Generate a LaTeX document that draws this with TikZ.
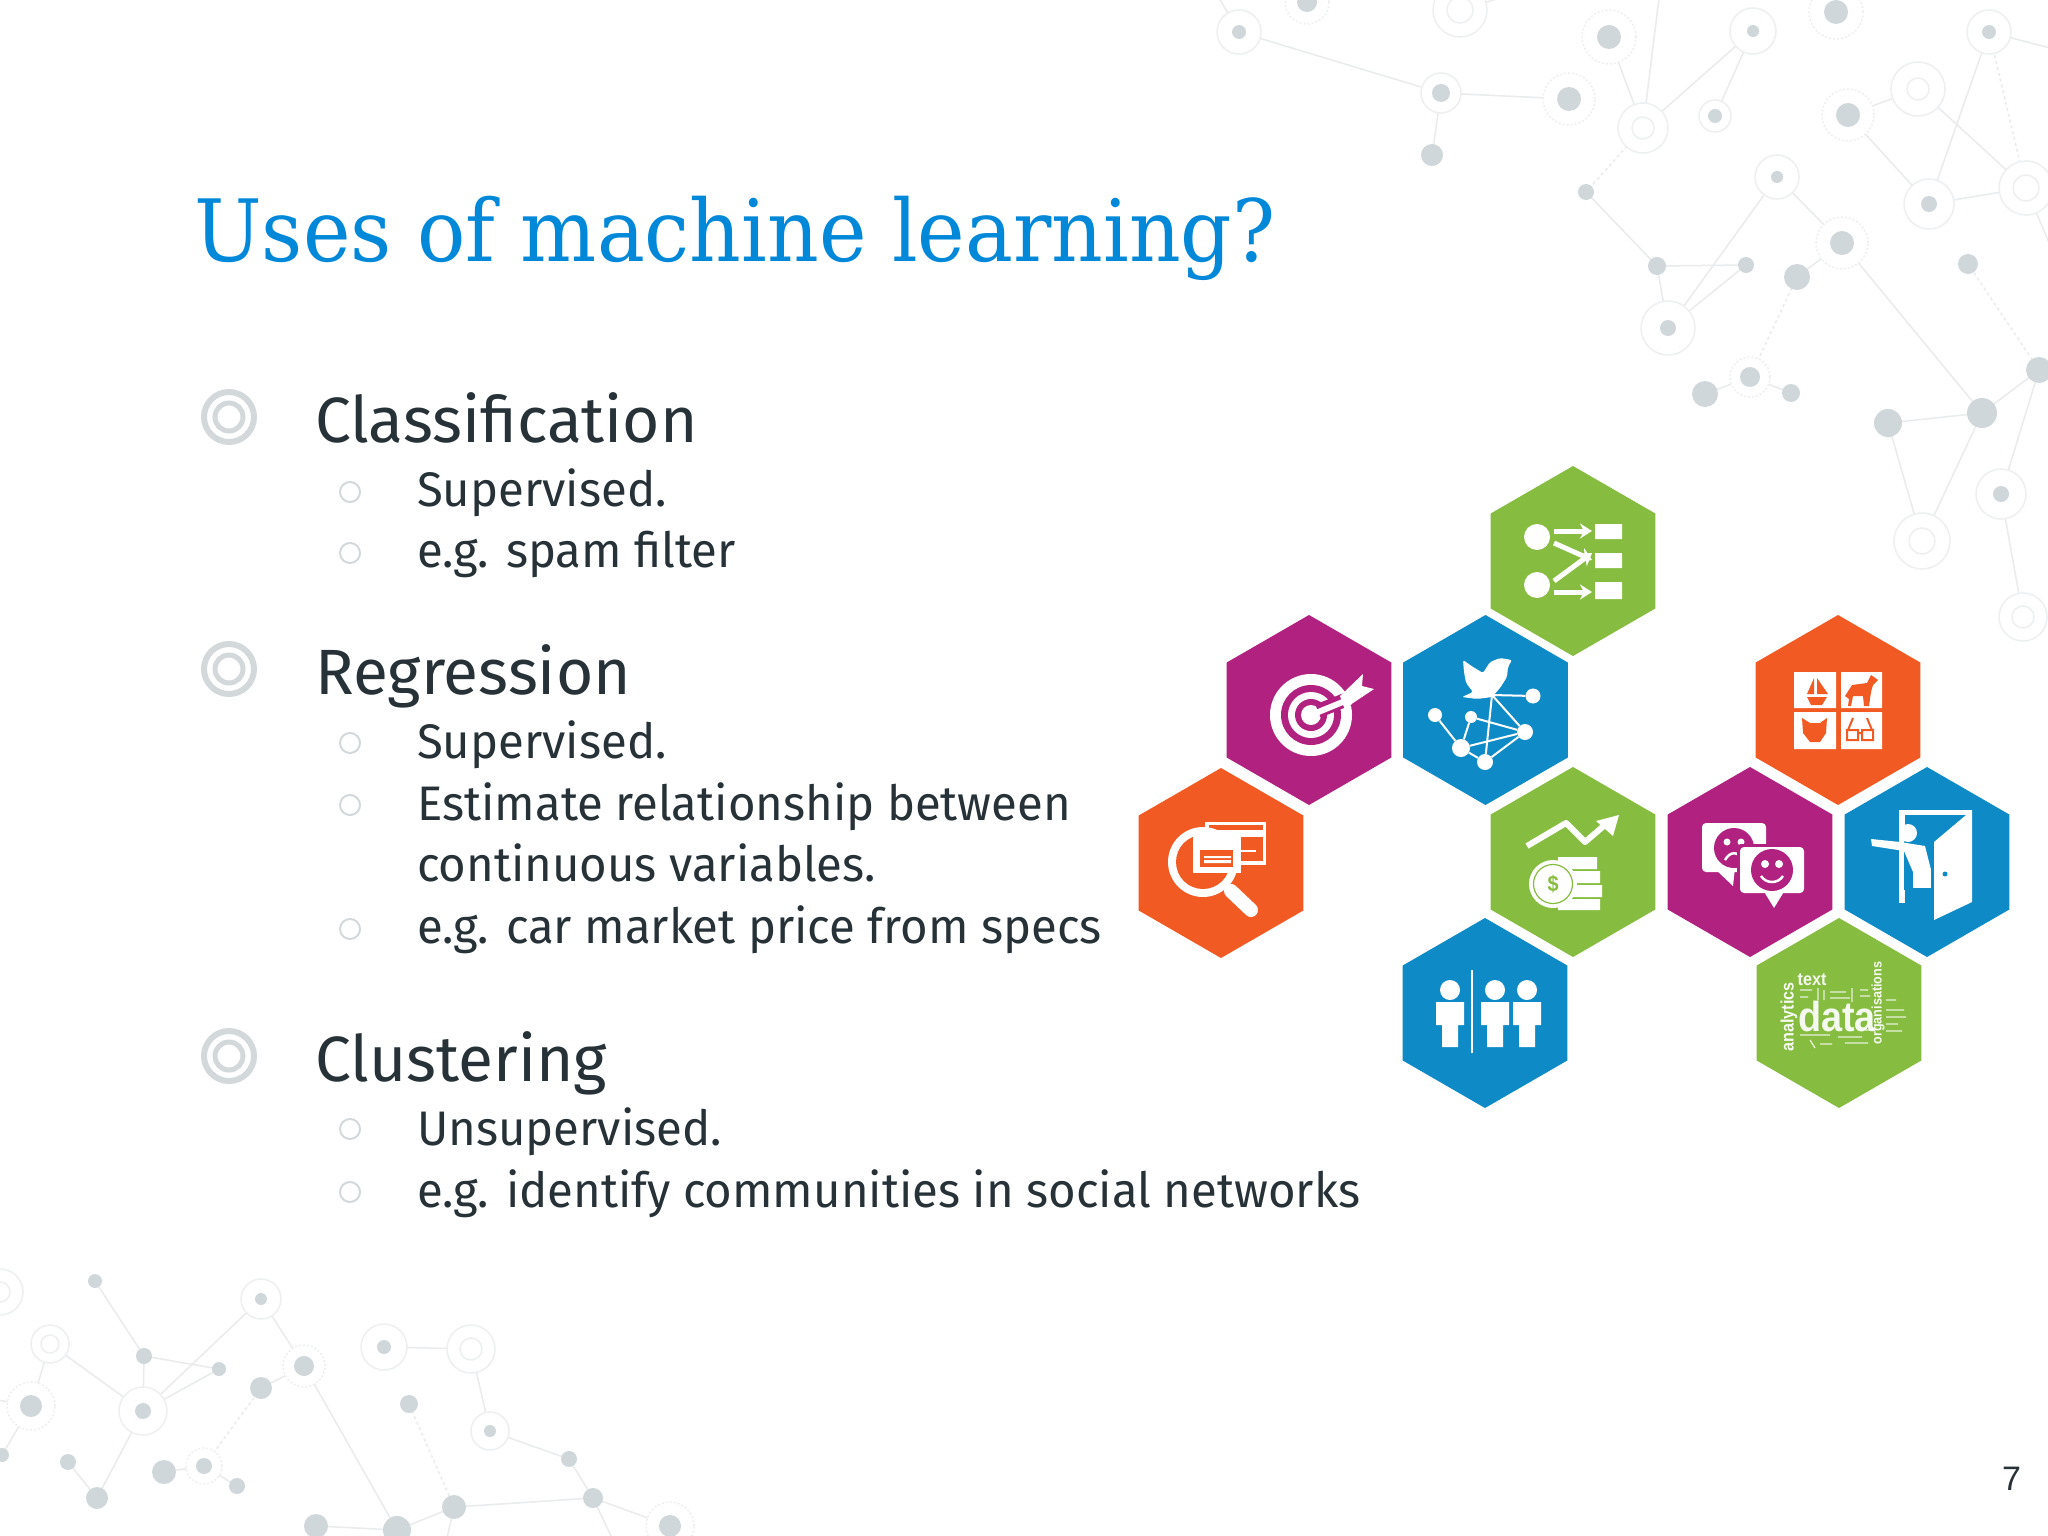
\documentclass[tikz,border=0pt]{standalone}
\usepackage{fontspec}
\usetikzlibrary{arrows.meta,shapes.geometric}
\setmainfont{Fira Sans}[FakeStretch=0.975]
\newfontfamily\headfont{Fira Sans}[FakeStretch=1.0]
\newfontfamily\titlefont{DejaVu Serif}[FakeStretch=0.934]
\newfontfamily\numfont{Liberation Sans}
\newfontfamily\cloudfont{Liberation Sans}[FakeStretch=0.9]
\definecolor{titleblue}{HTML}{0288D9}
\definecolor{bodyink}{HTML}{263238}
\definecolor{bulletgrey}{HTML}{D3D8DB}
\definecolor{netdot}{HTML}{D0D7DB}
\definecolor{netring}{HTML}{EDEFF1}
\definecolor{netline}{HTML}{E9EBED}
\definecolor{hexgreen}{HTML}{86BC3F}
\definecolor{hexmag}{HTML}{B02180}
\definecolor{hexblue}{HTML}{0E8AC6}
\definecolor{hexorange}{HTML}{F15A22}
\tikzset{
  netlink/.style={draw=netline,line width=1.5pt},
  netdash/.style={draw=netline,line width=1.5pt,dash pattern=on 3pt off 3pt},
  plainring/.style={circle,draw=netring,line width=1.5pt,inner sep=0pt,outer sep=0pt,fill=white},
  dashring/.style={circle,draw=netring,line width=1.5pt,inner sep=0pt,outer sep=0pt,fill=white,dash pattern=on 2pt off 2pt},
  soliddot/.style={circle,fill=netdot,inner sep=0pt,outer sep=0pt},
  hexa/.style={shape=regular polygon,regular polygon sides=6,regular polygon rotate=30,minimum size=190pt,inner sep=0pt,outer sep=0pt},
  heading/.style={anchor=base west,inner sep=0pt,text=bodyink,font=\headfont\fontsize{64}{64}\selectfont},
  subline/.style={anchor=base west,inner sep=0pt,text=bodyink,font=\fontsize{48.5}{48.5}\selectfont},
  whiteline/.style={draw=white,line width=3pt},
  whitearrow/.style={draw=white,line width=5pt,-{Stealth[length=12pt,width=15pt]}},
}
% name, x,y, ring radius, dot radius
\newcommand{\nring}[5]{\node[plainring,minimum size=#4*2pt] (#1) at (#2,#3) {}; \fill[netdot] (#2,#3) circle (#5);}
\newcommand{\ndash}[5]{\node[dashring,minimum size=#4*2pt] (#1) at (#2,#3) {}; \fill[netdot] (#2,#3) circle (#5);}
\newcommand{\ndbl}[5]{\node[plainring,minimum size=#4*2pt] (#1) at (#2,#3) {}; \draw[netring,line width=1.5pt] (#2,#3) circle (#5);}
\newcommand{\ndot}[4]{\node[soliddot,minimum size=#4*2pt] (#1) at (#2,#3) {};}
\newcommand{\bigbullet}[3]{\node[circle,draw=bulletgrey,line width=6pt,minimum size=50pt,inner sep=0pt] (#1) at (229,#2) {}; \node[circle,draw=bulletgrey,line width=5pt,minimum size=28pt,inner sep=0pt] (#3) at (229,#2) {};}
\newcommand{\smallbullet}[2]{\node[circle,draw=bulletgrey,line width=2pt,minimum size=20pt,inner sep=0pt] (#1) at (350,#2) {};}
\newcommand{\personicon}[1]{%
  \fill[white] (#1,990) circle (10);
  \fill[white] (#1-14,1002) -- (#1+14,1002) -- (#1+14,1025) -- (#1+8,1025) -- (#1+8,1047) -- (#1-8,1047) -- (#1-8,1025) -- (#1-14,1025) -- cycle;}
\begin{document}
\begin{tikzpicture}[x=1pt,y=-1pt]
\useasboundingbox (0,0) rectangle (2048,1536);
\fill[white] (0,0) rectangle (2048,1536);
% ---- network, top right
\begin{scope}
\clip (0,0) rectangle (2048,1536);
\coordinate (offA) at (1219,-2); \coordinate (offJ) at (1659,-2); \coordinate (offC) at (1500,-2);
\coordinate (offG) at (2050,48); \coordinate (offO) at (2052,250); \coordinate (offBL) at (-2,1400);
\coordinate (offW) at (447,1538); \coordinate (offV) at (612,1538);
\draw[netlink] (offA) -- (1239,32) -- (1441,93) -- (1569,99);
\draw[netlink] (1441,93) -- (1432,155);
\draw[netlink] (1609,37) -- (1643,128) -- (offJ);
\draw[netlink] (1643,128) -- (1753,31) -- (1715,116);
\draw[netlink] (1460,10) -- (offC);
\draw[netdash] (1643,128) -- (1586,192);
\draw[netlink] (1586,192) -- (1657,266) -- (1746,265) -- (1668,328) -- (1657,266);
\draw[netlink] (1668,328) -- (1777,177) -- (1842,243) -- (1797,277);
\draw[netdash] (1797,277) -- (1750,377);
\draw[netlink] (1705,394) -- (1750,377) -- (1791,393);
\draw[netlink] (1842,243) -- (1982,413) -- (1888,423) -- (1922,541) -- (1982,413) -- (2039,370) -- (2001,494) -- (2023,617);
\draw[netdash] (2039,370) -- (1968,264);
\draw[netlink] (1918,89) -- (1848,115) -- (1929,204) -- (2026,188) -- (1918,89);
\draw[netlink] (1929,204) -- (1989,32) -- (offG);
\draw[netdash] (1989,32) -- (2026,188);
\draw[netlink] (2026,188) -- (offO);
% bottom-left links
\draw[netlink] (95,1281) -- (144,1356) -- (219,1369) -- (143,1411) -- (144,1356);
\draw[netlink] (143,1411) -- (261,1299) -- (304,1366) -- (261,1388);
\draw[netdash] (261,1388) -- (204,1466);
\draw[netlink] (164,1472) -- (204,1466) -- (237,1486);
\draw[netlink] (50,1344) -- (143,1411) -- (97,1498) -- (68,1462);
\draw[netlink] (50,1344) -- (31,1406) -- (2,1455);
\draw[netlink] (31,1406) -- (offBL);
\draw[netlink] (304,1366) -- (397,1530) -- (316,1526);
\draw[netlink] (397,1530) -- (454,1507) -- (593,1498) -- (569,1459) -- (490,1431) -- (471,1349) -- (384,1347);
\draw[netdash] (454,1507) -- (409,1404);
\draw[netlink] (454,1507) -- (offW);
\draw[netlink] (593,1498) -- (670,1526);
\draw[netlink] (593,1498) -- (offV);
% nodes, top right
\nring{nA}{1239}{32}{22}{7}
\ndash{nB}{1307}{2}{22}{10}
\ndbl{nC}{1460}{10}{27}{13}
\ndash{nD}{1609}{37}{27}{12}
\nring{nE}{1753}{31}{23}{6}
\ndash{nF}{1836}{12}{27}{12}
\nring{nG}{1989}{32}{22}{7}
\nring{nH}{1441}{93}{20}{9}
\ndash{nI}{1569}{99}{26}{12}
\ndbl{nJ}{1643}{128}{25}{11}
\nring{nK}{1715}{116}{16}{7}
\ndot{nL}{1432}{155}{11}
\ndash{nM}{1848}{115}{26}{12}
\ndbl{nN}{1918}{89}{27}{11}
\ndbl{nO}{2026}{188}{27}{13}
\nring{nP}{1929}{204}{25}{8}
\nring{nQ}{1777}{177}{22}{6}
\ndash{nR}{1842}{243}{26}{12}
\ndot{nS}{1797}{277}{13}
\ndot{nT}{1586}{192}{8}
\ndot{nU}{1657}{266}{9}
\ndot{nV}{1746}{265}{8}
\nring{nW}{1668}{328}{27}{8}
\ndash{nX}{1750}{377}{20}{10}
\ndot{nY}{1705}{394}{13}
\ndot{nZ}{1791}{393}{9}
\ndot{nAA}{1968}{264}{10}
\ndot{nAB}{2039}{370}{13}
\ndot{nAC}{1982}{413}{15}
\ndot{nAD}{1888}{423}{14}
\nring{nAE}{2001}{494}{25}{8}
\ndbl{nAF}{1922}{541}{28}{13}
\ndbl{nAG}{2023}{617}{24}{11}
% nodes, bottom left
\ndbl{na}{0}{1292}{23}{10}
\ndot{nb}{95}{1281}{7}
\nring{nc}{261}{1299}{20}{6}
\ndbl{nd}{50}{1344}{19}{9}
\ndot{ne}{144}{1356}{8}
\ndot{nf}{219}{1369}{7}
\ndash{ng}{304}{1366}{21}{10}
\nring{nh}{384}{1347}{23}{7}
\ndbl{ni}{471}{1349}{24}{11}
\ndash{nj}{31}{1406}{24}{11}
\nring{nk}{143}{1411}{24}{8}
\ndot{nl}{261}{1388}{11}
\ndot{nm}{409}{1404}{9}
\nring{nn}{490}{1431}{19}{6}
\ndot{no}{2}{1455}{7}
\ndot{np}{68}{1462}{8}
\ndash{nq}{204}{1466}{18}{8}
\ndot{nr}{164}{1472}{12}
\ndot{ns}{237}{1486}{8}
\ndot{nt}{97}{1498}{11}
\ndot{nu}{569}{1459}{8}
\ndot{nv}{593}{1498}{10}
\ndot{nw}{454}{1507}{12}
\ndot{nx}{397}{1530}{14}
\ndot{ny}{316}{1526}{12}
\ndash{nz}{670}{1526}{24}{11}
\end{scope}
% ---- text
\node[anchor=base west,inner sep=0pt,text=titleblue,font=\titlefont\fontsize{86}{86}\selectfont] (title) at (194,261) {Uses of machine learning?};
\bigbullet{b1o}{417}{b1i}
\bigbullet{b2o}{669}{b2i}
\bigbullet{b3o}{1056}{b3i}
\smallbullet{s1}{492}
\smallbullet{s2}{553}
\smallbullet{s3}{743}
\smallbullet{s4}{805}
\smallbullet{s5}{929}
\smallbullet{s6}{1129}
\smallbullet{s7}{1192}
\node[heading] (h1) at (315,442) {Classification};
\node[subline] (t1) at (417,506) {Supervised.};
\node[subline] (t2) at (417,567) {e.g. spam filter};
\node[heading] (h2) at (315,694) {Regression};
\node[subline] (t3) at (417,758) {Supervised.};
\node[subline] (t4) at (417,820) {Estimate relationship between};
\node[subline] (t5) at (417,881) {continuous variables.};
\node[subline] (t6) at (417,943) {e.g. car market price from specs};
\node[heading] (h3) at (315,1081) {Clustering};
\node[subline] (t7) at (417,1145) {Unsupervised.};
\node[subline] (t8) at (417,1207) {e.g. identify communities in social networks};
\node[anchor=base west,inner sep=0pt,text=bodyink,font=\numfont\fontsize{34}{34}\selectfont] (pg) at (2002,1490) {7};
% ---- hexagons
\node[hexa,fill=hexgreen] (hxflow) at (1573,561) {};
\node[hexa,fill=hexmag] (hxtarget) at (1309,710) {};
\node[hexa,fill=hexblue] (hxtweet) at (1485.5,710) {};
\node[hexa,fill=hexorange] (hxsearch) at (1221,863) {};
\node[hexa,fill=hexgreen] (hxmoney) at (1573,862) {};
\node[hexa,fill=hexorange] (hxanimals) at (1838,710) {};
\node[hexa,fill=hexmag] (hxfaces) at (1750,862) {};
\node[hexa,fill=hexblue] (hxdoor) at (1927,862) {};
\node[hexa,fill=hexblue] (hxpeople) at (1485,1013) {};
\node[hexa,fill=hexgreen] (hxdata) at (1839,1013) {};
% flow icon
\fill[white] (1537,537) circle (13) (1537,585) circle (13);
\fill[white] (1595,524) rectangle (1622,539) (1595,553) rectangle (1622,568) (1595,582) rectangle (1622,599);
\draw[whitearrow] (1554,531) -- (1592,531);
\draw[whitearrow] (1554,543) -- (1592,560);
\draw[whitearrow] (1554,581) -- (1592,553);
\draw[whitearrow] (1554,592) -- (1592,592);
% target icon
\fill[white] (1311,715) circle (41);
\fill[hexmag] (1311,715) circle (30);
\fill[white] (1311,715) circle (23);
\fill[hexmag] (1311,715) circle (16);
\fill[white] (1311,715) circle (10);
\draw[hexmag,line width=14pt] (1318,711) -- (1355,696);
\draw[white,line width=6pt] (1311,715) -- (1350,699);
\fill[white] (1340,696) -- (1363,674) -- (1362,686) -- (1374,689) -- (1353,703) -- (1345,710) -- cycle;
% tweet icon
\fill[white,rounded corners=2pt] (1463,660) -- (1473,667) -- (1483,673) -- (1490,662) -- (1500,658) -- (1512,660) -- (1508,667) -- (1507,677) -- (1500,688) -- (1492,697) -- (1477,699) -- (1462,697) -- (1473,692) -- (1466,683) -- (1464,672) -- cycle;
\node[circle,fill=white,minimum size=14pt,inner sep=0pt] (tw1) at (1435,715) {};
\node[circle,fill=white,minimum size=12pt,inner sep=0pt] (tw2) at (1471,717) {};
\node[circle,fill=white,minimum size=18pt,inner sep=0pt] (tw3) at (1461,748) {};
\node[circle,fill=white,minimum size=16pt,inner sep=0pt] (tw4) at (1485,762) {};
\node[circle,fill=white,minimum size=16pt,inner sep=0pt] (tw5) at (1525,732) {};
\node[circle,fill=white,minimum size=15pt,inner sep=0pt] (tw6) at (1533,696) {};
\coordinate (tw7) at (1492,695);
\draw[white,line width=2pt] (tw1) -- (tw3) (tw2) -- (tw3) (tw3) -- (tw5) (tw2) -- (tw5) (tw4) -- (tw5) (tw7) -- (tw4) (tw7) -- (tw5) (tw7) -- (tw6) (tw3) -- (tw4);
% search icon
\fill[white] (1205,822) rectangle (1266,865);
\fill[hexorange] (1209,825) rectangle (1263,830);
\fill[hexorange] (1209,837) rectangle (1263,861);
\draw[white,line width=2pt] (1240,851) -- (1256,851);
\fill[white] (1203,862) circle (35);
\fill[hexorange] (1203,862) circle (27);
\fill[white] (1193,835) rectangle (1241,873);
\fill[hexorange] (1200,850) rectangle (1233,867);
\fill[white] (1204,856) rectangle (1231,858) (1204,860) rectangle (1231,863);
\draw[white,line width=14pt,line cap=round] (1231,891) -- (1251,910);
% money icon
\draw[white,line width=6pt,line join=round] (1527,846) -- (1566,823) -- (1585,842) -- (1606,824);
\fill[white] (1596,821) -- (1619,815) -- (1613,836) -- cycle;
\fill[white] (1558,857) rectangle (1597,869) (1560,871) rectangle (1600,883) (1560,885) rectangle (1602,897) (1558,899) rectangle (1600,910);
\fill[white] (1553,884) circle (24);
\draw[hexgreen,line width=1.2pt] (1553,884) circle (19.5);
\node[inner sep=0pt,text=hexgreen,font=\cloudfont\bfseries\fontsize{22}{22}\selectfont] (coin) at (1553,884) {\$};
% faces icon
\fill[white,rounded corners=4pt] (1702,823) rectangle (1766,872);
\fill[white] (1714,868) -- (1733,886) -- (1735,868) -- cycle;
\fill[hexmag] (1734,848) circle (20);
\fill[white] (1727,842) circle (3.5) (1741,842) circle (3.5);
\draw[white,line width=2.5pt] (1725,860) .. controls (1730,851) and (1738,851) .. (1743,860);
\fill[hexmag,rounded corners=4pt] (1737,844) rectangle (1807,896);
\fill[white,rounded corners=4pt] (1740,847) rectangle (1804,893);
\fill[white] (1763,890) -- (1774,908) -- (1785,890) -- cycle;
\fill[hexmag] (1772,870) circle (21);
\fill[white] (1765,864) circle (4) (1779,864) circle (4);
\draw[white,line width=2.5pt] (1761,876) .. controls (1766,884) and (1778,884) .. (1783,876);
% door icon
\fill[white] (1899,810) rectangle (1905,903);
\fill[white] (1899,810) rectangle (1972,815);
\fill[white] (1972,810) -- (1972,902) -- (1934,920) -- (1934,842) -- cycle;
\fill[hexblue] (1945,874) circle (2.5);
\fill[hexblue] (1904,828) rectangle (1933,890);
\fill[white] (1908,833) circle (9);
\fill[white] (1871,839) -- (1900,842) -- (1925,846) -- (1931,870) -- (1913,872) -- (1904,851) -- (1872,846) -- cycle;
\fill[white] (1913,868) rectangle (1931,888);
% people icon
\personicon{1450}
\personicon{1495}
\personicon{1527}
\draw[white,line width=2.5pt] (1472,970) -- (1472,1053);
% animals icon
\fill[white] (1794,672) rectangle (1836,708) (1841,672) rectangle (1882,708) (1794,712) rectangle (1836,749) (1841,712) rectangle (1882,749);
\fill[hexorange] (1814,678) -- (1807,694) -- (1814,694) -- cycle (1817,678) -- (1828,694) -- (1817,694) -- cycle (1807,697) -- (1827,697) -- (1822,705) -- (1811,705) -- cycle;
\fill[hexorange] (1845,696) -- (1852,685) -- (1867,683) -- (1871,675) -- (1878,680) -- (1873,685) -- (1871,692) -- (1869,706) -- (1864,706) -- (1863,696) -- (1853,696) -- (1851,706) -- (1848,706) -- (1849,699) -- cycle;
\fill[hexorange] (1802,718) -- (1810,723) -- (1820,723) -- (1827,718) -- (1826,733) -- (1820,742) -- (1810,742) -- (1803,733) -- cycle;
\draw[hexorange,line width=2pt] (1847,730) rectangle (1858,740) (1862,730) rectangle (1873,740) (1858,733) -- (1862,733) (1848,730) -- (1853,718) (1872,730) -- (1867,718);
% data cloud icon
\node[inner sep=0pt,text=white!92!hexgreen,font=\cloudfont\bfseries\fontsize{42}{42}\selectfont] (cl1) at (1837,1016) {data};
\node[inner sep=0pt,text=white!92!hexgreen,font=\cloudfont\bfseries\fontsize{18}{18}\selectfont] (cl2) at (1812,980) {text};
\node[inner sep=0pt,text=white!92!hexgreen,rotate=90,font=\cloudfont\bfseries\fontsize{18}{18}\selectfont] (cl3) at (1789,1017) {analytics};
\node[inner sep=0pt,text=white!92!hexgreen,rotate=90,font=\cloudfont\bfseries\fontsize{14}{14}\selectfont] (cl4) at (1878,1003) {organisations};
\draw[white,line width=1.2pt,opacity=0.8] (1800,990) -- (1812,990) (1800,997) -- (1808,997) (1818,988) -- (1818,1000) (1824,990) -- (1824,1000) (1830,992) -- (1846,992) (1830,998) -- (1850,998) (1852,988) -- (1852,1002) (1860,990) -- (1868,990) (1860,996) -- (1870,996) (1800,1035) -- (1830,1035) (1810,1040) -- (1815,1048) (1820,1044) -- (1832,1044) (1838,1037) -- (1862,1037) (1845,1043) -- (1868,1043) (1886,1010) -- (1904,1010) (1886,1017) -- (1906,1017) (1886,1024) -- (1898,1024) (1886,1031) -- (1902,1031) (1886,1000) -- (1896,1000) (1865,1030) -- (1874,1030);
\end{tikzpicture}
\end{document}
